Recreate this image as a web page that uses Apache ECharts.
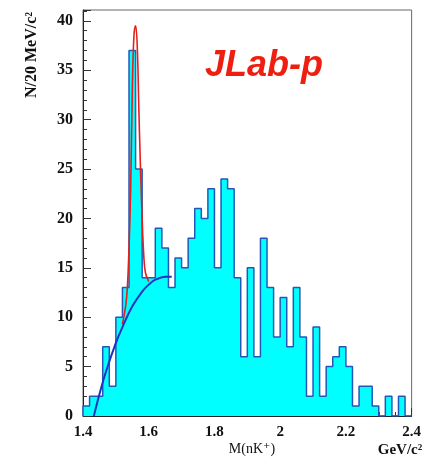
<!DOCTYPE html>
<html>
<head>
<meta charset="utf-8">
<script src="https://cdn.jsdelivr.net/npm/echarts@6/dist/echarts.min.js"></script>
<style>
  html, body { margin: 0; padding: 0; background: #fff; }
  #main { width: 424px; height: 463px; }
</style>
</head>
<body>
<div id="main"></div>
<script>
// bin low edges (GeV/c^2), 20 MeV bins
var binLow = [1.40, 1.42, 1.44, 1.46, 1.48, 1.50, 1.52, 1.54, 1.56, 1.58,
              1.60, 1.62, 1.64, 1.66, 1.68, 1.70, 1.72, 1.74, 1.76, 1.78,
              1.80, 1.82, 1.84, 1.86, 1.88, 1.90, 1.92, 1.94, 1.96, 1.98,
              2.00, 2.02, 2.04, 2.06, 2.08, 2.10, 2.12, 2.14, 2.16, 2.18,
              2.20, 2.22, 2.24, 2.26, 2.28, 2.30, 2.32, 2.34, 2.36, 2.38];
var binHigh = 2.40;
// counts per bin
var counts = [1, 2, 2, 7, 3, 10, 13, 37, 25, 14,
              14, 19, 17, 13, 16, 15, 18, 21, 20, 23,
              15, 24, 23, 14, 6, 15, 6, 18, 13, 8,
              12, 7, 13, 8, 2, 9, 2, 5, 6, 7,
              5, 1, 3, 3, 1, 0, 2, 0, 2, 0];

// fit curves
var sigFitM = [1.520, 1.530, 1.535, 1.540, 1.545, 1.550, 1.555, 1.560, 1.565, 1.570, 1.575, 1.580, 1.585, 1.590, 1.600];
var sigFitN = [9.3, 11.2, 13.0, 17.0, 23.0, 33.0, 38.5, 39.5, 37.5, 31.0, 25.0, 20.0, 16.2, 14.5, 13.6];
var bkgFitM = [1.433, 1.45, 1.47, 1.50, 1.52, 1.55, 1.58, 1.60, 1.62, 1.65, 1.67];
var bkgFitN = [0, 2.2, 4.5, 7.4, 9.0, 11.1, 12.6, 13.3, 13.8, 14.1, 14.1];

var xTicks = ['1.4', '1.6', '1.8', '2', '2.2', '2.4'];
var yTicks = ['0', '5', '10', '15', '20', '25', '30', '35', '40'];

var chart = echarts.init(document.getElementById('main'));

var histData = [[binLow[0], 0]];
for (var i = 0; i < binLow.length; i++) {
  histData.push([binLow[i], counts[i]]);
}
histData.push([binHigh, 0]);

function pairs(xs, ys) {
  var out = [];
  for (var i = 0; i < xs.length; i++) out.push([xs[i], ys[i]]);
  return out;
}

var labelFont = {
  fontFamily: 'Liberation Serif',
  fontWeight: 'bold',
  fontSize: 16,
  color: '#111'
};

var option = {
  backgroundColor: '#fff',
  animation: false,
  grid: {
    left: 83, right: 3, top: 10, bottom: 47,
    show: true, borderColor: '#666', borderWidth: 1
  },
  xAxis: {
    type: 'value',
    min: 1.4, max: 2.4, interval: 0.2,
    axisLine: { lineStyle: { color: '#222' } },
    axisTick: { inside: true, length: 8, lineStyle: { color: '#333' } },
    minorTick: { show: true, splitNumber: 4, length: 4, lineStyle: { color: '#333' } },
    splitLine: { show: false },
    axisLabel: Object.assign({}, labelFont, {
      fontSize: 15, margin: 9,
      formatter: function (v) {
        var s = String(Math.round(v * 10) / 10);
        return xTicks.indexOf(s) >= 0 ? s : '';
      }
    })
  },
  yAxis: {
    type: 'value',
    min: 0, max: 41.1, interval: 5,
    axisLine: { lineStyle: { color: '#222' } },
    axisTick: { inside: true, length: 8, lineStyle: { color: '#333' } },
    minorTick: { show: true, splitNumber: 5, length: 4, lineStyle: { color: '#333' } },
    splitLine: { show: false },
    axisLabel: Object.assign({}, labelFont, {
      margin: 10, showMaxLabel: false,
      formatter: function (v) {
        var s = String(Math.round(v));
        return (Math.abs(v - Math.round(v)) < 1e-6 && yTicks.indexOf(s) >= 0) ? s : '';
      }
    })
  },
  series: [
    {
      type: 'line',
      step: 'end',
      data: histData,
      symbol: 'none',
      lineStyle: { color: '#2458b8', width: 1.5 },
      areaStyle: { color: '#00ffff', opacity: 1 },
      z: 2
    },
    {
      type: 'line',
      smooth: 0.4,
      data: pairs(sigFitM, sigFitN),
      symbol: 'none',
      lineStyle: { color: '#e3201b', width: 1.6 },
      z: 3
    },
    {
      type: 'line',
      smooth: 0.4,
      data: pairs(bkgFitM, bkgFitN),
      symbol: 'none',
      lineStyle: { color: '#1d33c4', width: 2 },
      z: 4
    }
  ],
  graphic: [
    {
      type: 'text', left: 205, top: 48,
      style: {
        text: 'JLab-p',
        font: 'italic bold 36px "Liberation Sans", Arial, sans-serif',
        fill: '#ee1f10'
      }
    },
    {
      type: 'text', x: 32, y: 55, rotation: Math.PI / 2,
      style: {
        text: 'N/20 MeV/c²',
        font: 'bold 16px "Liberation Serif", serif',
        fill: '#111',
        textAlign: 'center', textVerticalAlign: 'middle'
      }
    },
    {
      type: 'text', x: 252, y: 449,
      style: {
        text: 'M(nK⁺)',
        font: '14px "Liberation Serif", "DejaVu Serif", serif',
        fill: '#111',
        textAlign: 'center', textVerticalAlign: 'middle'
      }
    },
    {
      type: 'text', x: 400, y: 450,
      style: {
        text: 'GeV/c²',
        font: 'bold 15px "Liberation Serif", serif',
        fill: '#111',
        textAlign: 'center', textVerticalAlign: 'middle'
      }
    }
  ]
};

chart.setOption(option);
</script>
</body>
</html>
